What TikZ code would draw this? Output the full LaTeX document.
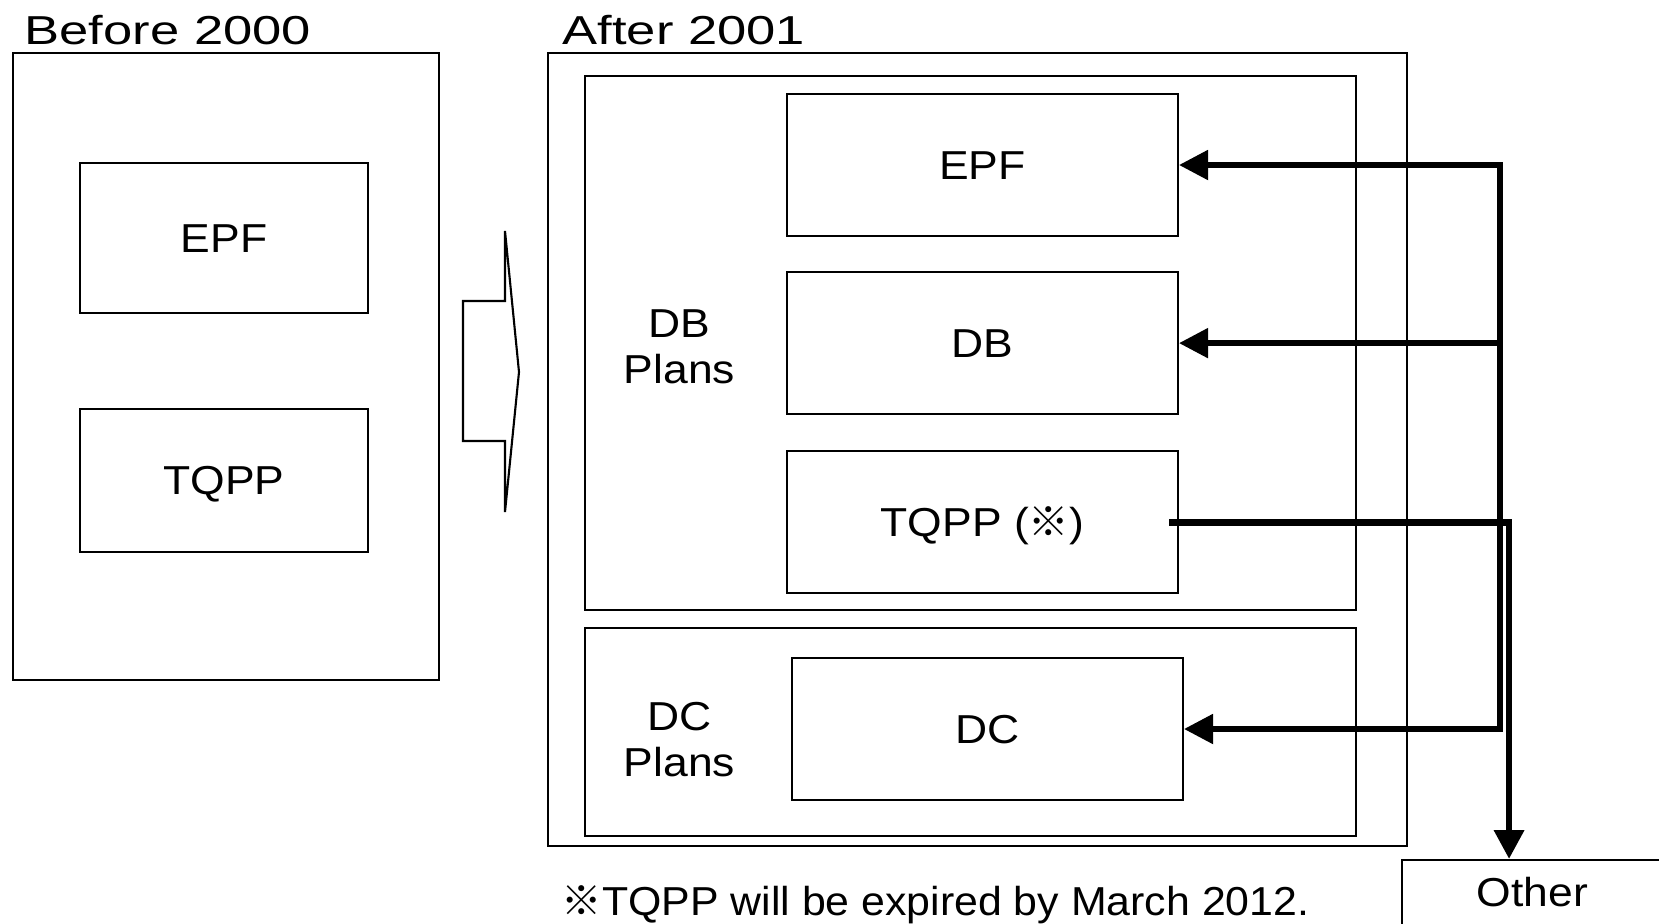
\documentclass[tikz,border=0pt]{standalone}
\usepackage{fontspec}
\setmainfont{Liberation Sans}[FakeStretch=1.1]
\newfontfamily\notefont{Liberation Sans}[FakeStretch=1.06]
\newfontfamily\titlefont{Liberation Sans}[FakeStretch=1.3]
\newfontfamily\cjk{Noto Sans CJK JP}
\usetikzlibrary{positioning,arrows.meta}

\begin{document}
\begin{tikzpicture}[font=\fontsize{11.5}{13.1}\selectfont,
            frame/.style = {draw, line width=0.6pt, inner sep=0pt},
            box/.style = {draw, line width=0.6pt, inner sep=0pt, minimum width=3.91cm, minimum height=1.42cm, text height=8.2pt, text depth=0pt},
            title/.style = {anchor=base west, inner sep=0pt},
            conn/.style = {line width=1.5pt, >={Triangle[length=2.9mm,width=2.9mm]}}]
            \useasboundingbox (0,0) rectangle (16.59,-9.23);

            \node[title] (beforelabel) at (0.24,-0.44) {\titlefont Before 2000};
            \node[title] (afterlabel) at (5.62,-0.44) {\titlefont After 2001};

            \node[frame,minimum width=4.26cm,minimum height=6.27cm] (before) at (2.26,-3.665) {};
            \node[box,minimum width=2.88cm,minimum height=1.50cm] (epfb) at (2.24,-2.38) {EPF};
            \node[box,minimum width=2.88cm,minimum height=1.43cm] (tqppb) at (2.24,-4.805) {TQPP};

            \draw[line width=0.6pt] (5.05,-2.31) -- (5.19,-3.72) -- (5.05,-5.12) -- (5.05,-4.41) -- (4.63,-4.41) -- (4.63,-3.01) -- (5.05,-3.01) -- cycle;

            \node[frame,minimum width=8.59cm,minimum height=7.93cm] (after) at (9.775,-4.495) {};
            \node[frame,minimum width=7.71cm,minimum height=5.34cm] (dbplans) at (9.705,-3.43) {};
            \node[frame,minimum width=7.71cm,minimum height=2.08cm] (dcplans) at (9.705,-7.32) {};

            \node[align=center] (dblabel) at (6.795,-3.47) {DB\\Plans};
            \node[align=center] (dclabel) at (6.795,-7.40) {DC\\Plans};

            \node[box] (epfa) at (9.825,-1.65) {EPF};
            \node[box] (dba) [below=0.34cm of epfa] {DB};
            \node[box] (tqppa) [below=0.35cm of dba] {TQPP ({\cjk ※})};
            \node[box] (dc) at (9.875,-7.29) {DC};

            \node[box,minimum width=2.61cm,minimum height=0.75cm,text depth=3pt,anchor=north west] (other) at (14.01,-8.59) {Other};

            \node[title] (note) at (5.61,-9.15) {\notefont{\cjk ※}TQPP will be expired by March 2012.};

            \coordinate (trunktop) at (15.00,-1.65);
            \coordinate (trunkbot) at (15.00,-7.29);

            \draw[conn,<->] (epfa.east) -- (trunktop) -- (trunkbot) -- (dc.east);
            \draw[conn,->] (trunktop |- dba.east) -- (dba.east);
            \draw[conn,line width=1.9pt,->] ([xshift=-1mm]tqppa.east) -| ([xshift=-2.35mm]other.north);

        \end{tikzpicture}
\end{document}
